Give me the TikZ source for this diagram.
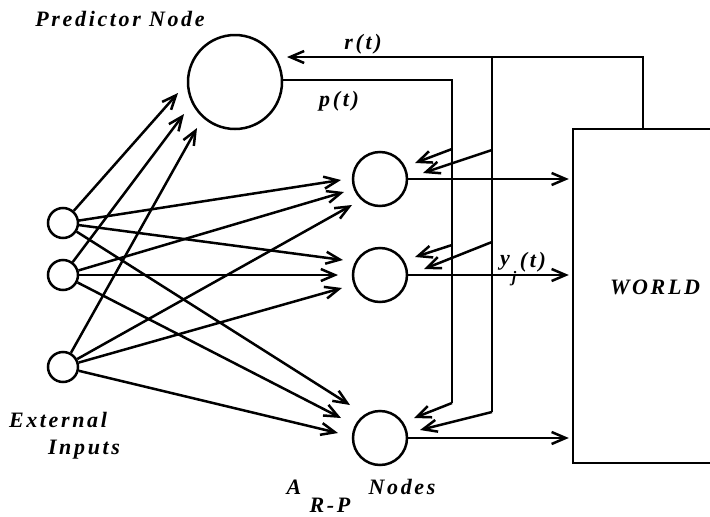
\documentclass[tikz,border=0pt]{standalone}
\usepackage{fontspec}
\setmainfont{Liberation Serif}
\newfontfamily\lblfont[LetterSpace=12,BoldItalicFont={Liberation Serif Bold Italic}]{Liberation Serif}
\usetikzlibrary{arrows.meta}
\tikzset{
  wire/.style={line width=2.5pt},
  arr/.style={wire,-{Straight Barb[length=14pt,width=12pt,line width=2.5pt]}},
  neuron/.style={circle,draw,line width=2.5pt,inner sep=0pt},
  lbl/.style={font=\lblfont\fontsize{22}{24}\selectfont\bfseries\itshape,inner sep=0pt},
}
\begin{document}
\begin{tikzpicture}[x=1pt,y=-1pt]
\useasboundingbox (0,0) rectangle (710,517);
% nodes
\node[neuron,minimum size=94pt] (pred) at (235,82) {};
\node[neuron,minimum size=30pt] (in1) at (63,223) {};
\node[neuron,minimum size=30pt] (in2) at (63,275) {};
\node[neuron,minimum size=30pt] (in3) at (63,367) {};
\node[neuron,minimum size=54pt] (a1) at (380,179) {};
\node[neuron,minimum size=54pt] (a2) at (380,275) {};
\node[neuron,minimum size=54pt] (a3) at (380,438) {};
\draw[wire] (714,129) -- (573,129) -- (573,463) -- (714,463);
\node[lbl,minimum width=139pt,minimum height=334pt] (world) at (642.5,296) {};
\node[lbl] (wl) at (655,287) {WORLD};
% labels
\node[lbl] (lpred) at (120,19) {Predictor Node};
\node[lbl] (lr) at (363,44) {r(t)};
\node[lbl] (lp) at (339,101) {p(t)};
\node[lbl] (ly) at (505,263) {y};
\node[lbl,font=\lblfont\fontsize{16}{16}\selectfont\bfseries\itshape] (lj) at (514,279) {j};
\node[lbl] (lt) at (533,262) {(t)};
\node[lbl] (lext) at (58,420) {External};
\node[lbl] (linp) at (84,450) {Inputs};
\node[lbl] (lA) at (294,487) {A};
\node[lbl] (lRP) at (330,505) {R-P};
\node[lbl] (lnodes) at (402,487) {Nodes};
% tip coordinates
\coordinate (p1) at (178,93);
\coordinate (p2) at (184,114);
\coordinate (p3) at (197,128);
\coordinate (t11) at (341,180);
\coordinate (t21) at (344,192);
\coordinate (t31) at (352,205);
\coordinate (t12) at (343,260);
\coordinate (t22) at (338,275);
\coordinate (t32) at (342,288);
\coordinate (t13) at (350,405);
\coordinate (t23) at (341,418);
\coordinate (t33) at (338,433);
% input connections
\draw[arr] (in1) -- (p1);
\draw[arr] (in2) -- (p2);
\draw[arr] (in3) -- (p3);
\draw[arr] (in1) -- (t11);
\draw[arr] (in2) -- (t21);
\draw[arr] (in3) -- (t31);
\draw[arr] (in1) -- (t12);
\draw[arr] (in2) -- (t22);
\draw[arr] (in3) -- (t32);
\draw[arr] (in1) -- (t13);
\draw[arr] (in2) -- (t23);
\draw[arr] (in3) -- (t33);
% outputs
\draw[arr,shorten >=4pt] (a1.east) -- (a1.east -| world.west);
\draw[arr,shorten >=4pt] (a2.east) -- (a2.east -| world.west);
\draw[arr,shorten >=4pt] (a3.east) -- (a3.east -| world.west);
% r(t) feedback
\coordinate (rw) at (643,129);
\coordinate (rc) at (643,57);
\coordinate (rj) at (492,57);
\coordinate (rt) at (287,57);
\coordinate (rb1) at (492,150);
\coordinate (rb2) at (492,242);
\coordinate (rb3) at (492,412);
\draw[arr] (rw) -- (rc) -- (rt);
\draw[wire] (rj) -- (rb3);
\draw[arr] (rb1) -- (423,173);
\draw[arr] (rb2) -- (424,269);
\draw[arr] (rb3) -- (420,430);
% p(t) feedback
\coordinate (pc) at (452,80);
\coordinate (pb1) at (452,149);
\coordinate (pb2) at (452,245);
\coordinate (pb3) at (452,403);
\draw[wire] (pred.east |- pc) -- (pc) -- (pb3);
\draw[arr] (pb1) -- (415,163);
\draw[arr] (pb2) -- (415,257);
\draw[arr] (pb3) -- (414,418);
\end{tikzpicture}
\end{document}
